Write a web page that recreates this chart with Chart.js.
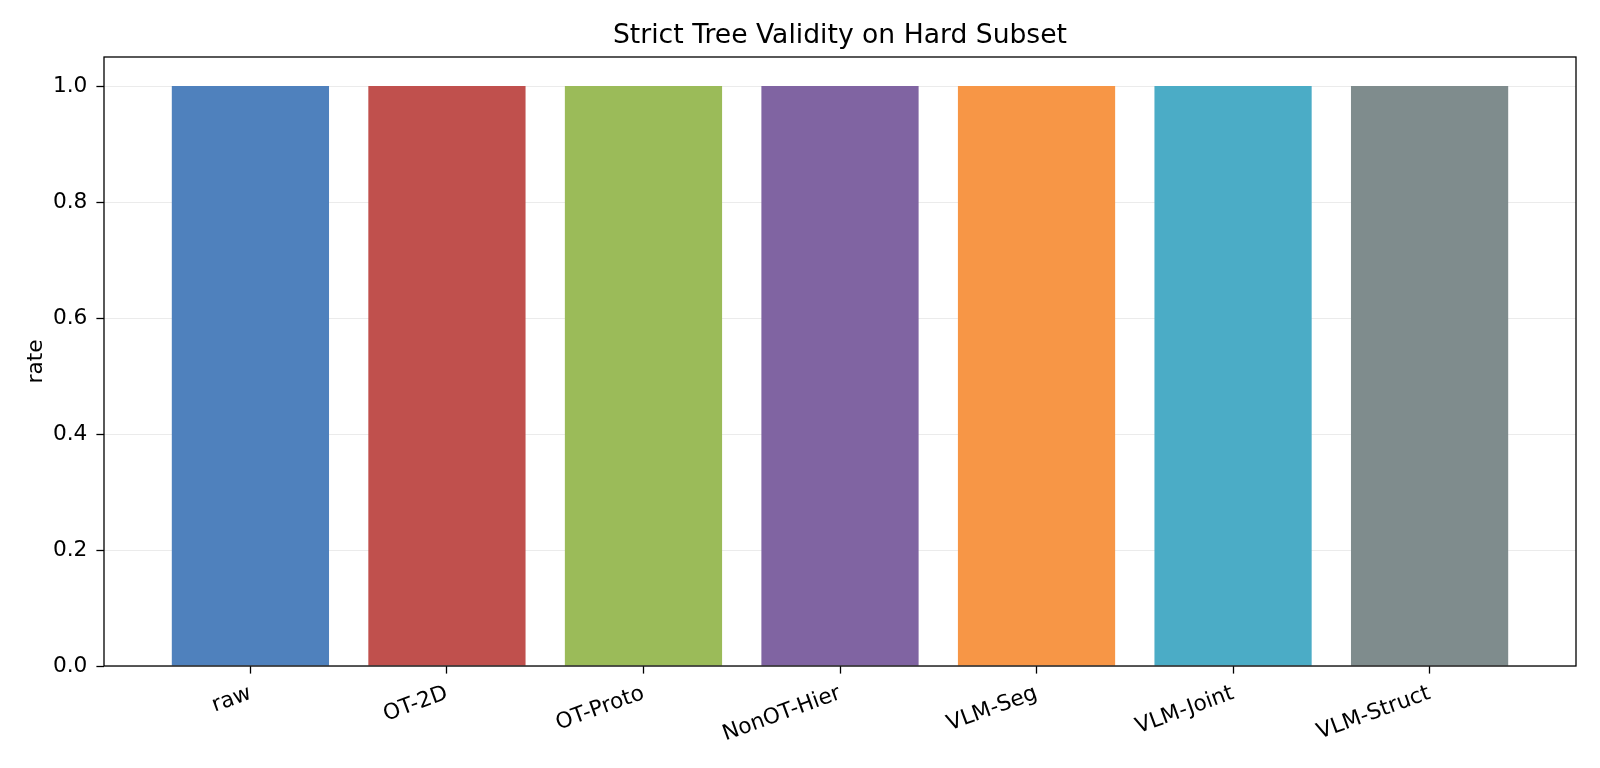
<!DOCTYPE html>
<html lang="en">
<head>
<meta charset="UTF-8">
<title>Strict Tree Validity on Hard Subset</title>
<style>
    html, body {
        margin: 0;
        padding: 0;
        background: #fff;
    }
    #wrap {
        width: 1600px;
        height: 768px;
    }
</style>
<script src="https://cdn.jsdelivr.net/npm/chart.js"></script>
</head>
<body>
<div id="wrap"><canvas id="validityChart" width="1600" height="768"></canvas></div>
<script>
    const categories = ["raw", "OT-2D", "OT-Proto", "NonOT-Hier", "VLM-Seg", "VLM-Joint", "VLM-Struct"];
    const validityRate = [1.0, 1.0, 1.0, 1.0, 1.0, 1.0, 1.0];
    const barColors = ["#4f81bd", "#c0504d", "#9bbb59", "#8064a2", "#f79646", "#4bacc6", "#7f8c8d"];
    const yTicks = [0.0, 0.2, 0.4, 0.6, 0.8, 1.0];
    const chartTitle = "Strict Tree Validity on Hard Subset";

    Chart.defaults.font.family = "'DejaVu Sans', sans-serif";
    Chart.defaults.color = "#000";

    // box around the plot area + title centred over the axes (like matplotlib)
    const frame = {
        id: "frame",
        afterDraw(chart) {
            const a = chart.chartArea;
            const ctx = chart.ctx;
            ctx.save();
            ctx.strokeStyle = "#000";
            ctx.lineWidth = 1.3;
            ctx.strokeRect(a.left, a.top, a.right - a.left, a.bottom - a.top);
            ctx.fillStyle = "#000";
            ctx.font = "26.6px 'DejaVu Sans', sans-serif";
            ctx.textAlign = "center";
            ctx.textBaseline = "alphabetic";
            ctx.fillText(chartTitle, (a.left + a.right) / 2, a.top - 14);
            ctx.restore();
        }
    };

    const points = categories.map((c, i) => ({ x: i, y: validityRate[i] }));

    new Chart(document.getElementById("validityChart"), {
        type: "bar",
        data: {
            datasets: [{
                label: "rate",
                data: points,
                backgroundColor: barColors,
                borderWidth: 0,
                barPercentage: 0.8,
                categoryPercentage: 1.0
            }]
        },
        options: {
            responsive: false,
            animation: false,
            devicePixelRatio: 1,
            layout: { padding: { left: 0, right: 24, top: 57, bottom: 0 } },
            plugins: {
                legend: { display: false },
                tooltip: { enabled: false },
                title: { display: false }
            },
            scales: {
                x: {
                    type: "linear",
                    min: -0.745,
                    max: 6.745,
                    offset: false,
                    afterBuildTicks(scale) {
                        scale.ticks = categories.map((c, i) => ({ value: i }));
                    },
                    afterFit(scale) { scale.height = 102; },
                    grid: {
                        offset: false,
                        drawOnChartArea: false,
                        drawTicks: true,
                        tickLength: 7.6,
                        tickWidth: 1.3,
                        tickColor: "#000"
                    },
                    border: { display: false },
                    ticks: {
                        autoSkip: false,
                        maxRotation: 20,
                        minRotation: 20,
                        padding: 7,
                        font: { size: 21.7 },
                        color: "#000",
                        callback: (v) => categories[v]
                    }
                },
                y: {
                    min: 0,
                    max: 1.05,
                    z: 1,
                    afterBuildTicks(scale) {
                        scale.ticks = yTicks.map(v => ({ value: v }));
                    },
                    afterFit(scale) { scale.width = 104; },
                    grid: {
                        color: "rgba(190,190,190,0.3)",
                        lineWidth: 1,
                        tickLength: 7.6,
                        tickWidth: 1.3,
                        tickColor: "#000"
                    },
                    border: { display: false },
                    ticks: {
                        padding: 9,
                        font: { size: 21.7 },
                        color: "#000",
                        callback: (v) => v.toFixed(1)
                    },
                    title: {
                        display: true,
                        text: "rate",
                        font: { size: 21.7 },
                        color: "#000",
                        padding: { top: 23.3, bottom: 0 }
                    }
                }
            }
        },
        plugins: [frame]
    });
</script>
</body>
</html>
